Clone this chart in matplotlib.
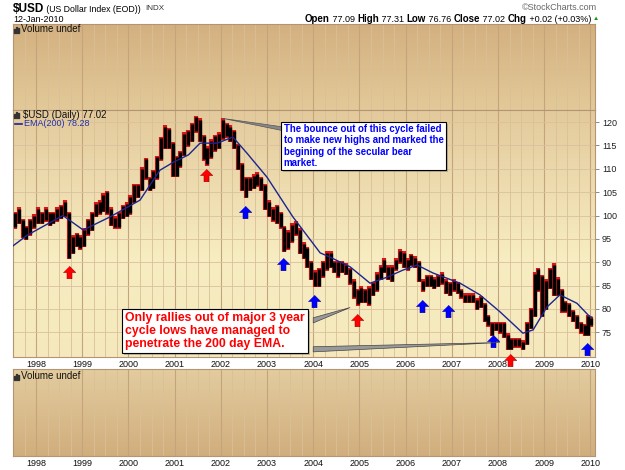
import numpy as np
import matplotlib
matplotlib.use('Agg')
import matplotlib.pyplot as plt
from matplotlib.patches import Polygon, Rectangle
from matplotlib.colors import LinearSegmentedColormap
import matplotlib.patheffects as pe

plt.rcParams['font.family'] = ['Liberation Sans', 'DejaVu Sans']

# monthly low / high, Jul 1997 .. Jan 2010
start_year = 1997
start_month = 7
lows = [97.5, 98.5, 95.5, 95.0, 96.0, 97.5,
        98.5, 98.5, 99.0, 98.0, 98.5, 99.0, 99.5, 100.0, 91.0, 92.0, 93.5, 93.0,
        93.5, 96.0, 97.0, 100.0, 100.5, 101.0, 100.5, 98.0, 97.5, 97.5, 99.5, 100.0,
        100.5, 103.0, 104.0, 105.5, 108.0, 105.5, 106.0, 108.0, 112.0, 114.5, 114.5, 108.5,
        108.5, 110.5, 113.0, 115.0, 116.0, 118.0, 116.0, 112.0, 111.0, 112.5, 114.0, 114.5,
        116.5, 117.0, 116.0, 114.5, 110.0, 105.5, 104.0, 105.5, 106.0, 106.5, 105.5, 101.5,
        100.0, 99.0, 98.5, 97.5, 92.5, 93.0, 94.5, 96.0, 92.0, 91.0, 89.0, 86.5,
        85.0, 85.0, 87.0, 88.5, 89.0, 88.0, 87.0, 88.0, 87.5, 85.5, 82.5, 81.0,
        81.5, 81.5, 81.0, 83.0, 84.0, 86.5, 88.0, 86.5, 86.0, 88.5, 90.0, 89.0,
        88.5, 89.5, 89.0, 86.0, 84.0, 85.0, 85.0, 84.5, 85.0, 85.5, 83.5, 83.0,
        84.0, 83.5, 82.5, 81.5, 81.5, 81.5, 80.0, 80.5, 77.5, 76.5, 74.5, 75.5,
        75.0, 74.0, 71.5, 71.5, 72.0, 72.0, 71.5, 72.5, 76.0, 78.5, 84.0, 78.5,
        80.0, 84.5, 83.0, 83.0, 79.5, 79.5, 78.5, 77.5, 76.0, 75.0, 74.5, 74.5,
        76.5]
highs = [100.5, 101.5, 99.0, 97.5, 99.0, 100.0,
         101.5, 100.5, 101.5, 100.5, 100.5, 101.5, 102.0, 103.0, 100.5, 95.5, 96.0, 95.5,
         97.0, 99.0, 100.5, 102.5, 103.0, 104.5, 105.0, 101.5, 99.5, 100.5, 102.0, 102.5,
         104.0, 106.5, 106.5, 110.0, 112.0, 108.0, 109.5, 112.5, 116.5, 119.0, 118.5, 115.5,
         112.5, 113.5, 117.5, 118.0, 119.5, 121.0, 120.5, 117.0, 114.5, 116.0, 117.0, 117.5,
         120.5, 119.5, 119.0, 118.0, 115.0, 111.0, 108.0, 108.0, 108.5, 109.0, 108.0, 106.5,
         103.0, 101.5, 102.0, 100.5, 97.5, 96.5, 98.0, 98.5, 97.0, 94.0, 93.0, 90.0,
         88.0, 88.5, 90.0, 92.0, 92.0, 90.0, 90.0, 90.0, 89.5, 88.5, 86.0, 84.0,
         84.5, 84.0, 84.5, 85.5, 87.5, 89.0, 90.5, 89.0, 89.0, 90.5, 92.5, 92.0,
         90.5, 91.5, 91.0, 90.0, 86.0, 87.0, 87.0, 86.5, 87.0, 87.5, 86.0, 85.5,
         86.0, 85.5, 84.0, 83.0, 83.0, 83.0, 82.0, 82.5, 81.0, 78.5, 77.0, 77.0,
         77.0, 77.0, 74.5, 73.5, 73.5, 73.5, 73.0, 77.0, 80.0, 87.5, 88.5, 87.0,
         86.0, 88.5, 89.5, 86.5, 84.0, 81.5, 81.0, 79.5, 78.5, 77.0, 76.5, 78.5,
         78.0]

ema_years = [1997.50, 1997.81, 1998.58, 1999.02, 1999.60, 2000.25, 2000.68, 2000.97,
             2001.30, 2001.55, 2001.92, 2002.26, 2002.57, 2003.00, 2003.56, 2004.15,
             2004.36, 2004.80, 2005.23, 2005.60, 2005.94, 2006.25, 2006.59, 2007.18,
             2007.61, 2008.04, 2008.54, 2008.76, 2009.06, 2009.34, 2009.71, 2009.99, 2010.03]
ema_vals = [93.5, 95.8, 100.0, 96.9, 99.7, 103.3, 109.7, 111.4,
            113.0, 115.5, 115.5, 116.8, 113.3, 108.2, 99.7, 92.0,
            91.1, 89.0, 85.5, 86.8, 88.3, 89.4, 87.7, 85.5,
            83.0, 79.4, 74.8, 75.5, 80.4, 83.0, 81.2, 78.3, 78.28]

red_arrows_x = [1998.71, 2001.68, 2004.95, 2008.26]
red_arrows_y = [87.9, 108.6, 77.6, 69.0]
blue_arrows_x = [2002.52, 2003.35, 2004.02, 2006.35, 2006.92, 2007.89, 2009.93]
blue_arrows_y = [100.8, 89.6, 81.7, 80.6, 79.5, 73.1, 71.4]

years = list(range(1998, 2011))
yticks = [75, 80, 85, 90, 95, 100, 105, 110, 115, 120]

W, H = 625, 470
fig = plt.figure(figsize=(W / 100, H / 100), dpi=100)
fig.patch.set_facecolor('white')


def box(x0, y0, x1, y1):
    return [x0 / W, 1 - y1 / H, (x1 - x0) / W, (y1 - y0) / H]


XMIN, XMAX = 1997.5, 2010.1
ax_top = fig.add_axes(box(13, 24, 595, 110))
ax = fig.add_axes(box(13, 110, 595, 357))
ax_bot = fig.add_axes(box(13, 369, 595, 456))


def gradient(a, stops):
    cmap = LinearSegmentedColormap.from_list('g', stops)
    g = np.linspace(0, 1, 256).reshape(-1, 1)
    a.imshow(g, cmap=cmap, aspect='auto', extent=[0, 1, 0, 1],
             transform=a.transAxes, zorder=0, origin='upper')


gradient(ax_top, [(0, (0.83, 0.69, 0.50)), (1, (0.89, 0.79, 0.60))])
gradient(ax, [(0, (0.89, 0.79, 0.61)), (0.6, (0.97, 0.93, 0.76)), (1, (0.96, 0.91, 0.74))])
gradient(ax_bot, [(0, (0.89, 0.80, 0.62)), (1, (0.82, 0.68, 0.49))])

quarters = np.arange(1997.5, 2010.1, 0.25)
for a in (ax_top, ax, ax_bot):
    a.set_xlim(XMIN, XMAX)
    for q in quarters:
        if abs(q - round(q)) < 1e-6:
            a.axvline(q, color='#c4a47c', lw=0.8, zorder=1)
        else:
            a.axvline(q, color='#d9c098', lw=0.6, zorder=1)
    for s in a.spines.values():
        s.set_color('#b39473')
        s.set_linewidth(0.8)
    a.tick_params(left=False, right=False, labelleft=False)

ax_top.set_ylim(0, 1)
ax_top.set_xticks([])
ax_bot.set_ylim(0, 1)

# main price panel
ax.set_ylim(69.7, 122.6)
for v in yticks:
    ax.axhline(v, color='#d9c29c', lw=0.6, zorder=1)

months = np.arange(len(lows))
xs = start_year + (start_month - 1 + months + 0.5) / 12.0
xs[-1] = 2010.02
ax.vlines(xs, np.array(lows) - 0.3, np.array(highs) + 0.3, color='#d81818', lw=3.0, zorder=2)
ax.vlines(xs, lows, highs, color='black', lw=2.4, zorder=3)
ax.plot(ema_years, ema_vals, color='#1c2590', lw=1.0, zorder=4)

arrow = [(0, 0.5), (0.5, 0), (0.2, 0), (0.2, -0.5), (-0.2, -0.5), (-0.2, 0), (-0.5, 0)]
ax.scatter(red_arrows_x, red_arrows_y, marker=arrow, s=80, color='#ff0000',
           edgecolors='#990000', linewidths=0.4, zorder=6, clip_on=False)
ax.scatter(blue_arrows_x, blue_arrows_y, marker=arrow, s=80, color='#0000ff',
           edgecolors='#000088', linewidths=0.4, zorder=6, clip_on=False)

ax.yaxis.tick_right()
ax.set_yticks(yticks)
ax.tick_params(axis='y', right=True, direction='out', length=3, width=0.6,
               color='#777777', labelright=True, labelsize=6.5, labelcolor='#222222', pad=2)
for a in (ax, ax_bot):
    a.set_xticks(years)
    a.set_xticklabels([str(y) for y in years])
    a.tick_params(axis='x', length=0, labelsize=6.5, pad=2, labelcolor='#111111')

# callouts
t1 = ax.text(2003.36, 119.55,
             "The bounce out of this cycle failed\nto make new highs and marked the\n"
             "begining of the secular bear\nmarket.",
             color='#0000ff', fontsize=6.9, fontweight='bold', va='top', ha='left',
             linespacing=1.15, zorder=8,
             bbox=dict(boxstyle='square,pad=0.25', fc='white', ec='black', lw=0.8))
t1.get_bbox_patch().set_path_effects([pe.SimplePatchShadow(offset=(1.5, -1.5)), pe.Normal()])
ax.add_patch(Polygon([(2002.04, 120.8), (2003.33, 119.0), (2003.33, 118.2)],
                     closed=True, fc='#888888', ec='#555555', lw=0.5, zorder=7))

t2 = ax.text(1999.93, 79.25,
             "Only rallies out of major 3 year\ncycle lows have managed to\n"
             "penetrate the 200 day EMA.",
             color='#ff0000', fontsize=8.8, fontweight='bold', va='top', ha='left',
             linespacing=1.1, zorder=8,
             bbox=dict(boxstyle='square,pad=0.25', fc='white', ec='black', lw=0.8))
t2.get_bbox_patch().set_path_effects([pe.SimplePatchShadow(offset=(1.5, -1.5)), pe.Normal()])
ax.add_patch(Polygon([(2004.0, 78.1), (2004.80, 80.3), (2004.0, 77.0)],
                     closed=True, fc='#999999', ec='#444444', lw=0.5, zorder=7))
ax.add_patch(Polygon([(2004.0, 71.9), (2008.04, 72.8), (2004.0, 70.8)],
                     closed=True, fc='#999999', ec='#444444', lw=0.5, zorder=7))


# panel legends
def icon(x, y):
    for i, hgt in enumerate([4, 6, 5]):
        fig.add_artist(Rectangle(((x + i * 2) / W, 1 - y / H), 1.3 / W, hgt / H,
                                 transform=fig.transFigure, color='#333333'))


icon(14, 33)
fig.text(21 / W, 1 - 29 / H, "Volume undef", fontsize=7, va='center', color='#111111')
icon(14, 380)
fig.text(21 / W, 1 - 376 / H, "Volume undef", fontsize=7, va='center', color='#111111')
icon(14, 118)
fig.text(23 / W, 1 - 115 / H, "$USD (Daily) 77.02", fontsize=7, va='center', color='#111111')
fig.add_artist(plt.Line2D([15 / W, 22 / W], [1 - 124 / H, 1 - 124 / H], color='#1c2590', lw=1.2))
fig.text(24 / W, 1 - 124 / H, "EMA(200) 78.28", fontsize=6.5, va='center', color='#2030b0')

fig.canvas.draw()
r = fig.canvas.get_renderer()


def chain(x, y, pieces):
    # lay text pieces one after another from pixel x
    x = x / W
    for txt, size, weight, col in pieces:
        t = fig.text(x, 1 - y / H, txt, fontsize=size, fontweight=weight, va='center', color=col)
        x += t.get_window_extent(renderer=r).width / W
    return x


# header
chain(13, 9, [("$USD", 8.5, 'bold', 'black'), (" (US Dollar Index (EOD))  ", 6.3, 'normal', 'black'),
              ("INDX", 5.8, 'normal', '#333333')])
fig.text(13 / W, 1 - 19 / H, "12-Jan-2010", fontsize=6.5, va='center')
fig.text(597 / W, 1 - 8 / H, "\u00a9StockCharts.com", fontsize=6.5, va='center', ha='right',
         color='#666666')

parts = [("Open", 7, 'bold', 'black'), (" 77.09 ", 6.5, 'normal', 'black'),
         ("High", 7, 'bold', 'black'), (" 77.31 ", 6.5, 'normal', 'black'),
         ("Low", 7, 'bold', 'black'), (" 76.76 ", 6.5, 'normal', 'black'),
         ("Close", 7, 'bold', 'black'), (" 77.02 ", 6.5, 'normal', 'black'),
         ("Chg", 7, 'bold', 'black'), (" +0.02 (+0.03%)", 6.5, 'normal', 'black')]
xe = chain(305, 19, parts)
fig.text(xe + 1.5 / W, 1 - 19 / H, "\u25b2", fontsize=4.5, va='center', color='#119911')

fig.savefig('out.png', dpi=100)
